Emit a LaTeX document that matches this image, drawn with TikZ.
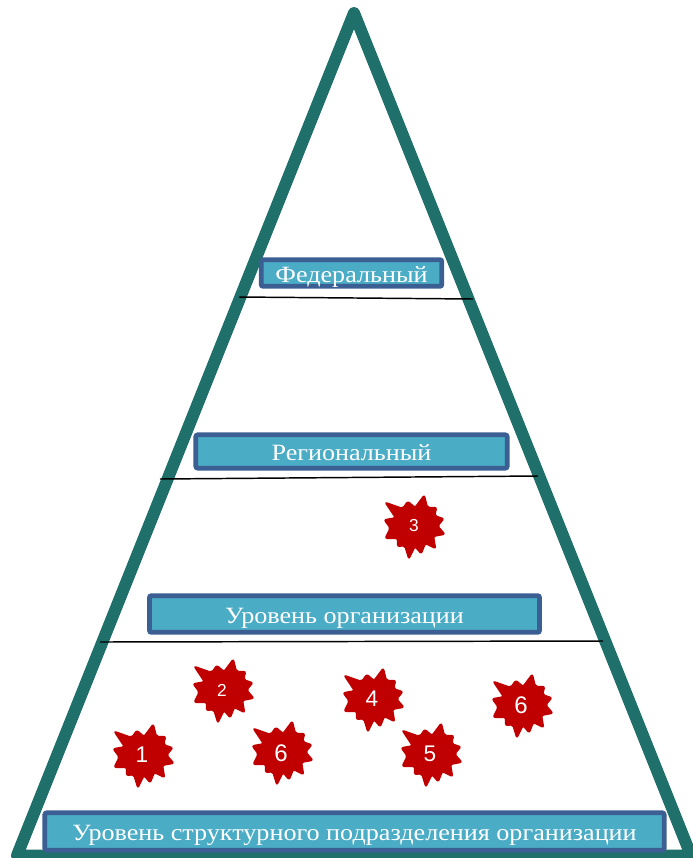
\documentclass[tikz,border=0pt]{standalone}
\usepackage{fontspec}
\setmainfont[FakeStretch=1.12]{Liberation Serif}
\setsansfont{Liberation Sans}
\definecolor{pyramidgreen}{HTML}{1F6F6B}
\definecolor{levelfill}{HTML}{4BACC6}
\definecolor{levelborder}{HTML}{3B5F92}
\definecolor{burstred}{HTML}{C00000}
\tikzset{
    level/.style={draw=levelborder,fill=levelfill,line width=3.6pt,rounded corners=1.5pt,text=white,
        inner sep=0pt,text height=16pt,text depth=2.5pt,font=\fontsize{17.5}{19}\selectfont},
    divider/.style={black,line width=1.1pt},
    burstnum/.style={text=white,inner sep=0pt,font=\sffamily\fontsize{17}{18}\selectfont},
    burstsmall/.style={burstnum,font=\sffamily\fontsize{13}{14}\selectfont},
    burst/.pic={
        \fill[burstred,draw=burstred,line width=1pt,line join=round,rounded corners=1.5pt,scale=1.03]
            (-28,-23) -- (-11,-17) -- (-6,-24) -- (1,-18) -- (10,-30) -- (13,-18) -- (22,-18)
            -- (20,-10) -- (29,-7) -- (23,0) -- (30,8) -- (19,10) -- (21,22) -- (11,17)
            -- (7,27) -- (1,20) -- (-5,32) -- (-9,19) -- (-16,20) -- (-16,12) -- (-28,12)
            -- (-23,2) -- (-29,-6) -- (-18,-8) -- cycle;
    }
}
\begin{document}
\begin{tikzpicture}[x=0.75pt,y=-0.75pt]
    \useasboundingbox (0,0) rectangle (693,858);

    % Pyramid %
    \draw[pyramidgreen,line width=9pt,line join=round] (354,13) -- (17,855.5) -- (691,855.5) -- cycle;

    % Levels %
    \node[level,minimum width=135.5pt,minimum height=20pt] (federal) at (351.5,273) {Федеральный};
    \node[level,minimum width=233.5pt,minimum height=25pt] (regional) at (351.5,451.5) {Региональный};
    \node[level,minimum width=292.5pt,minimum height=27.5pt] (organization) at (344.5,614) {Уровень организации};
    \node[level,minimum width=464.5pt,minimum height=28pt] (department) at (354.5,831.5) {Уровень структурного подразделения организации};

    % Dividers %
    \coordinate (federalL) at (239,297);
    \coordinate (federalR) at (473,299);
    \coordinate (regionalL) at (160,479);
    \coordinate (regionalR) at (538,476);
    \coordinate (organizationL) at (100,642);
    \coordinate (organizationR) at (603,641);
    \draw[divider] (federalL) -- (federalR);
    \draw[divider] (regionalL) -- (regionalR);
    \draw[divider] (organizationL) -- (organizationR);

    % Bursts %
    \pic at (143,755) {burst};
    \pic at (223,690) {burst};
    \pic at (282,752) {burst};
    \pic at (414,526) {burst};
    \pic at (373,699) {burst};
    \pic at (431,754) {burst};
    \pic at (522,705) {burst};
    \node[burstnum] (burstA) at (142,755) {1};
    \node[burstsmall] (burstB) at (222,690) {2};
    \node[burstnum,font=\sffamily\fontsize{18}{18}\selectfont] (burstC) at (281,753) {6};
    \node[burstsmall] (burstD) at (414,526) {3};
    \node[burstnum] (burstE) at (372,699) {4};
    \node[burstnum] (burstF) at (430,754) {5};
    \node[burstnum,font=\sffamily\fontsize{18}{18}\selectfont] (burstG) at (521,705) {6};
\end{tikzpicture}
\end{document}
